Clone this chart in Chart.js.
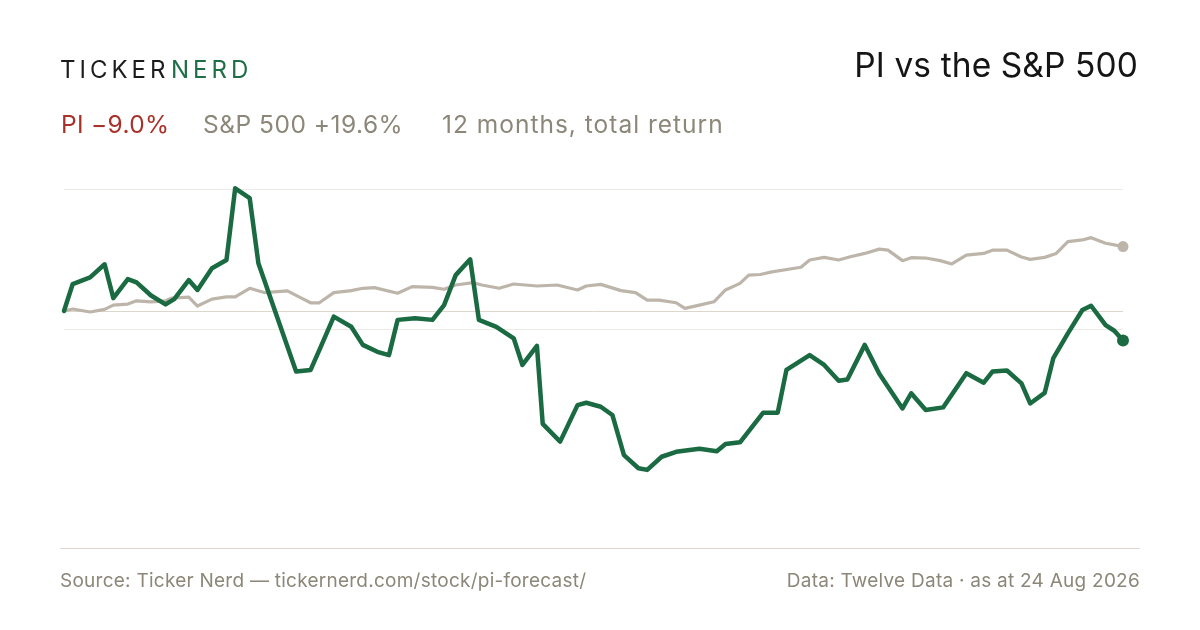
<!DOCTYPE html>
<html>
<head>
<meta charset="utf-8">
<script src="https://cdn.jsdelivr.net/npm/chart.js@4.4.1/dist/chart.umd.min.js"></script>
<style>
  html, body { margin: 0; padding: 0; background: #fff; }
  body { width: 1200px; height: 630px; position: relative; overflow: hidden; font-family: "Inter", "Liberation Sans", sans-serif; }
  #chart { position: absolute; left: 0; top: 0; }
  .t { position: absolute; line-height: 1; white-space: nowrap; }
  .brand { top: 58.4px; font-size: 24px; letter-spacing: 4px; color: #1c1c1c; }
  #brand2 { color: #1f6e47; }
  #title { right: 62px; top: 49.4px; font-size: 33.5px; letter-spacing: 0.1px; color: #151515; }
  .sub { top: 111.6px; font-size: 24.5px; letter-spacing: 0.5px; color: #8c8778; }
  #sub1 { color: #a8322a; letter-spacing: 0.3px; }
  #sub3 { letter-spacing: 1px; }
  #rule { position: absolute; left: 60px; top: 548px; width: 1080px; height: 1px; background: #ddd8cc; }
  .foot { top: 570.7px; font-size: 19px; letter-spacing: 0.25px; color: #8c8778; }
  #src { left: 60px; }
  #data { right: 60px; }
</style>
</head>
<body>
<canvas id="chart" width="1200" height="630"></canvas>
<div class="t brand" style="left:60px">TICKER</div>
<div class="t brand" id="brand2" style="left:171px">NERD</div>
<div class="t" id="title">PI vs the S&amp;P 500</div>
<div class="t sub" id="sub1" style="left:61px">PI −9.0%</div>
<div class="t sub" style="left:203px">S&amp;P 500 +19.6%</div>
<div class="t sub" id="sub3" style="left:442px">12 months, total return</div>
<div id="rule"></div>
<div class="t foot" id="src">Source: Ticker Nerd — tickernerd.com/stock/pi-forecast/</div>
<div class="t foot" id="data">Data: Twelve Data · as at 24 Aug 2026</div>

<script>
// days since start of the 12 month window, and total return in %
const piDays = [0, 3, 9, 14, 17, 22, 25, 30, 35, 38, 43, 46, 51, 56, 59, 64, 67, 80, 85, 88, 93, 99, 103, 108, 112, 115, 121, 127, 131, 135, 140, 143, 149, 155, 158, 163, 165, 171, 177, 180, 185, 189, 193, 198, 201, 206, 211, 219, 225, 228, 233, 241, 246, 249, 257, 262, 267, 270, 276, 281, 289, 292, 297, 303, 311, 317, 320, 325, 330, 333, 338, 341, 346, 351, 354, 359, 362, 365];
const piRet = [0, 8.2, 10.2, 14.2, 3.9, 9.7, 8.7, 4.7, 2.0, 3.6, 9.4, 6.4, 13.0, 15.5, 37.3, 34.3, 14.5, -18.4, -17.9, -11.9, -1.7, -4.8, -10.3, -12.4, -13.4, -2.7, -2.2, -2.7, 1.8, 10.9, 15.7, -2.7, -4.8, -8.3, -16.4, -10.6, -34.3, -39.7, -28.6, -27.9, -29.1, -31.6, -43.8, -47.8, -48.3, -44.3, -42.8, -41.9, -42.6, -40.4, -39.9, -30.9, -30.9, -17.9, -13.4, -16.4, -21.2, -20.8, -10.3, -19.1, -29.6, -25.0, -30.1, -29.3, -18.9, -21.8, -18.4, -18.1, -22.0, -28.1, -24.9, -14.3, -6.8, 0.3, 1.6, -4.3, -6.0, -9.0];

const spxDays = [0, 3, 9, 14, 17, 22, 25, 30, 35, 37, 43, 46, 51, 56, 59, 64, 69, 77, 81, 85, 88, 93, 99, 103, 107, 115, 120, 127, 131, 135, 141, 144, 150, 155, 163, 170, 177, 180, 185, 192, 197, 201, 205, 211, 214, 219, 224, 228, 233, 236, 240, 244, 254, 257, 262, 267, 271, 276, 281, 284, 289, 292, 297, 302, 306, 311, 317, 320, 325, 330, 333, 338, 342, 346, 351, 354, 359, 362, 365];
const spxRet = [0, 0.6, -0.3, 0.5, 1.8, 2.1, 3.1, 2.8, 3.1, 3.9, 4.2, 1.5, 3.6, 4.3, 4.3, 6.9, 5.6, 6.1, 4.3, 2.5, 2.5, 5.6, 6.2, 6.9, 7.1, 5.4, 7.4, 7.2, 6.6, 7.9, 8.6, 7.9, 6.9, 8.2, 7.6, 7.9, 6.4, 7.6, 8.1, 6.2, 5.6, 3.3, 3.3, 2.5, 0.8, 1.8, 2.8, 6.4, 8.4, 10.9, 11.1, 11.9, 13.3, 15.5, 16.3, 15.5, 16.5, 17.5, 18.8, 18.5, 15.3, 16.2, 16.1, 15.3, 14.3, 17.0, 17.5, 18.5, 18.5, 16.4, 15.7, 16.3, 17.5, 21.1, 21.6, 22.3, 20.6, 20.1, 19.6];

const gridValues = [37, 0, -5.5];  // light guide lines; 0 is the start level
const yMin = -70, yMax = 40;

const green = '#1a6a42';
const stone = '#bdb5aa';

function pts(days, vals) {
  return days.map((d, i) => ({ x: d, y: vals[i] }));
}
function lastDot(r) {
  return ctx => ctx.dataIndex === ctx.dataset.data.length - 1 ? r : 0;
}

new Chart(document.getElementById('chart'), {
  type: 'line',
  data: {
    datasets: [
      {
        label: 'PI',
        data: pts(piDays, piRet),
        borderColor: green,
        backgroundColor: green,
        borderWidth: 4.5,
        pointRadius: lastDot(6),
        pointBorderWidth: 0,
        borderJoinStyle: 'round',
        borderCapStyle: 'round',
        tension: 0,
        clip: false
      },
      {
        label: 'S&P 500',
        data: pts(spxDays, spxRet),
        borderColor: stone,
        backgroundColor: stone,
        borderWidth: 3.2,
        pointRadius: lastDot(5.5),
        pointBorderWidth: 0,
        borderJoinStyle: 'round',
        borderCapStyle: 'round',
        tension: 0,
        clip: false
      }
    ]
  },
  options: {
    responsive: false,
    animation: false,
    devicePixelRatio: 1,
    layout: { padding: { left: 64, right: 77, top: 179.4, bottom: 88.7 } },
    plugins: { legend: { display: false }, tooltip: { enabled: false } },
    scales: {
      x: { type: 'linear', min: 0, max: 365, display: false },
      y: {
        min: yMin, max: yMax,
        afterBuildTicks: axis => { axis.ticks = gridValues.map(v => ({ value: v })); },
        ticks: { display: false },
        border: { display: false },
        grid: {
          drawTicks: false,
          tickLength: 0,
          lineWidth: 1,
          color: c => c.tick && c.tick.value === 0 ? '#ddd6cb' : '#eeebe5'
        }
      }
    }
  }
});
</script>
</body>
</html>
